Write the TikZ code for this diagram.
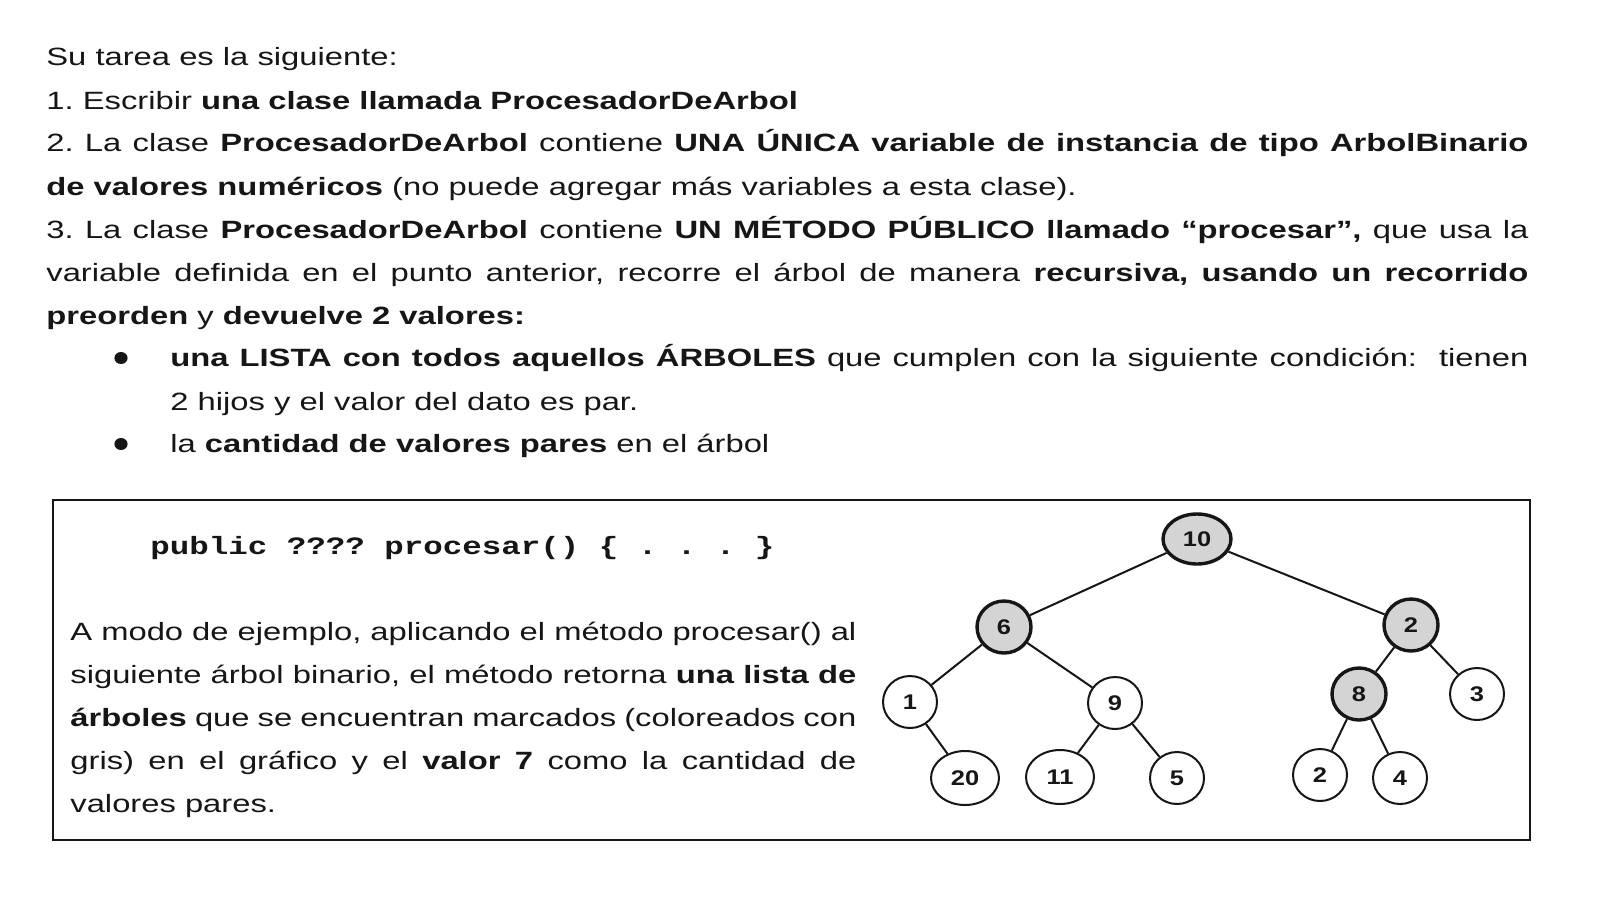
\documentclass[tikz,border=0pt]{standalone}
\usepackage{fontspec}
\setmainfont[FakeStretch=1.31]{Liberation Sans}
\newfontfamily\codefont[FakeStretch=1.3]{Liberation Mono}
\newfontfamily\treefont[FakeStretch=1.2]{Liberation Sans}
\usetikzlibrary{shapes.geometric}
\definecolor{ink}{HTML}{161616}
\definecolor{shade}{HTML}{D4D4D4}
\newcommand{\jline}[2]{\makebox[#1][s]{#2}}
\frenchspacing
\tikzset{
  txt/.style={anchor=base west, inner sep=0pt, text=ink, font=\fontsize{12.5pt}{15pt}\selectfont},
  code/.style={anchor=base west, inner sep=0pt, text=ink, font=\codefont\bfseries\fontsize{12.5pt}{15pt}\selectfont},
  bul/.style={ellipse, fill=ink, inner sep=0pt, minimum width=6.6pt, minimum height=6pt},
  tnode/.style={ellipse, draw=ink, line width=1pt, minimum width=27pt, minimum height=26pt, inner sep=0pt, fill=white, text=ink, font=\treefont\bfseries\fontsize{10.6pt}{11pt}\selectfont},
  marked/.style={fill=shade, line width=1.7pt},
  wide/.style={minimum width=34pt, minimum height=27pt},
  edge/.style={draw=ink, line width=1pt},
  frame/.style={draw=ink, line width=1.25pt},
}
\begin{document}
\begin{tikzpicture}[x=0.5pt, y=-0.5pt]
\useasboundingbox (0,0) rectangle (1620,922);
\fill[white] (0,0) rectangle (1620,922);

% top text
\node[txt] (l1) at (46,65) {Su tarea es la siguiente:};
\node[txt] (l2) at (46,109) {1. Escribir \textbf{una clase llamada ProcesadorDeArbol}};
\node[txt] (l3) at (46,151) {\jline{741pt}{2. La clase \textbf{ProcesadorDeArbol} contiene \textbf{UNA ÚNICA variable de instancia de tipo ArbolBinario}}};
\node[txt] (l4) at (46,195) {\textbf{de valores numéricos} (no puede agregar más variables a esta clase).};
\node[txt] (l5) at (46,238) {\jline{741pt}{3. La clase \textbf{ProcesadorDeArbol} contiene \textbf{UN MÉTODO PÚBLICO llamado “procesar”,} que usa la}};
\node[txt] (l6) at (46,281) {\jline{741pt}{variable definida en el punto anterior, recorre el árbol de manera \textbf{recursiva, usando un recorrido}}};
\node[txt] (l7) at (46,324) {\textbf{preorden} y \textbf{devuelve 2 valores:}};
\node[bul] (bu1) at (121,358) {};
\node[txt] (l8) at (170,366) {\jline{679pt}{\textbf{una LISTA con todos aquellos ÁRBOLES} que cumplen con la siguiente condición:\ \ tienen}};
\node[txt] (l9) at (170,410) {2 hijos y el valor del dato es par.};
\node[bul] (bu2) at (121,444) {};
\node[txt] (l10) at (170,452) {la \textbf{cantidad de valores pares} en el árbol};

% frame
\draw[frame] (53,500) rectangle (1530,840);

% box text
\node[code] (c1) at (150,554) {public ???? procesar() \{ . . . \}};
\node[txt] (b1) at (70,640) {\jline{393pt}{A modo de ejemplo, aplicando el método procesar() al}};
\node[txt] (b2) at (70,683) {\jline{393pt}{siguiente árbol binario, el método retorna \textbf{una lista de}}};
\node[txt] (b3) at (70,726) {\jline{393pt}{\textbf{árboles} que se encuentran marcados (coloreados con}};
\node[txt] (b4) at (70,769) {\jline{393pt}{gris) en el gráfico y el \textbf{valor 7} como la cantidad de}};
\node[txt] (b5) at (70,812) {valores pares.};

% tree
\node[tnode, marked, minimum width=34pt, minimum height=25pt] (n10) at (1197,539) {10};
\node[tnode, marked] (n6) at (1004,627) {6};
\node[tnode, marked] (n2) at (1411,625) {2};
\node[tnode] (n1) at (910,702) {1};
\node[tnode] (n9) at (1115,703) {9};
\node[tnode, marked] (n8) at (1359,694) {8};
\node[tnode] (n3) at (1477,694) {3};
\node[tnode, wide] (n20) at (965,778) {20};
\node[tnode, wide] (n11) at (1060,777) {11};
\node[tnode] (n5) at (1177,778) {5};
\node[tnode] (n2b) at (1320,775) {2};
\node[tnode] (n4) at (1400,778) {4};

\draw[edge] (n10) -- (n6);
\draw[edge] (n10) -- (n2);
\draw[edge] (n6) -- (n1);
\draw[edge] (n6) -- (n9);
\draw[edge] (n1) -- (n20);
\draw[edge] (n9) -- (n11);
\draw[edge] (n9) -- (n5);
\draw[edge] (n2) -- (n8);
\draw[edge] (n2) -- (n3);
\draw[edge] (n8) -- (n2b);
\draw[edge] (n8) -- (n4);
\end{tikzpicture}
\end{document}
